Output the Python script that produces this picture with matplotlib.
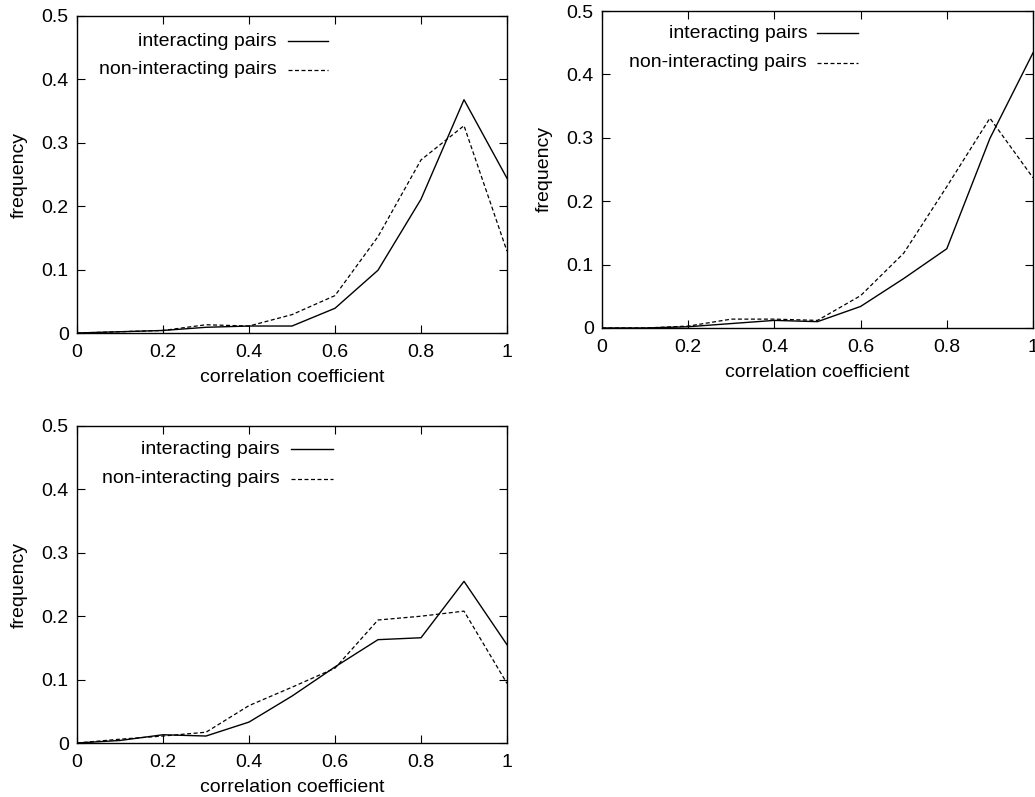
import numpy as np
import matplotlib.pyplot as plt
from matplotlib.lines import Line2D

plt.rcParams['font.family'] = ['Liberation Sans', 'DejaVu Sans']

# Data
corr = [0.0, 0.1, 0.2, 0.3, 0.4, 0.5, 0.6, 0.7, 0.8, 0.9, 1.0]

inter_a = [0.0, 0.002, 0.004, 0.009, 0.011, 0.011, 0.039, 0.099, 0.211, 0.368, 0.244]
non_a = [0.0, 0.002, 0.004, 0.013, 0.011, 0.029, 0.059, 0.152, 0.273, 0.327, 0.129]

inter_b = [0.0, 0.0, 0.002, 0.007, 0.012, 0.010, 0.034, 0.078, 0.125, 0.299, 0.434]
non_b = [0.0, 0.0, 0.003, 0.014, 0.014, 0.012, 0.051, 0.118, 0.223, 0.331, 0.237]

inter_c = [0.0, 0.004, 0.013, 0.011, 0.033, 0.074, 0.120, 0.163, 0.166, 0.255, 0.155]
non_c = [0.0, 0.006, 0.011, 0.017, 0.059, 0.088, 0.118, 0.194, 0.200, 0.208, 0.094]

xticks = [0, 0.2, 0.4, 0.6, 0.8, 1]
yticks = [0, 0.1, 0.2, 0.3, 0.4, 0.5]
labels = ['interacting pairs', 'non-interacting pairs']

W, H = 1035, 797
fig = plt.figure(figsize=(W / 100, H / 100), dpi=100)

# axes boxes in pixels: left, top, width, height
boxes = [(77, 16, 430, 317), (602, 11, 431, 317), (77, 426, 430, 317)]
series = [(inter_a, non_a), (inter_b, non_b), (inter_c, non_c)]
legend_pos = [(0.465, 0.491, 0.584, 0.921, 0.830),
              (0.476, 0.499, 0.594, 0.930, 0.836),
              (0.472, 0.498, 0.595, 0.927, 0.833)]

fs = 14
dash = (0, (3.2, 2.0))

for (l, t, w, h), (yi, yn), lp in zip(boxes, series, legend_pos):
    ax = fig.add_axes([l / W, 1 - (t + h) / H, w / W, h / H])
    ax.plot(corr, yi, color='black', lw=1.0)
    ax.plot(corr, yn, color='black', lw=0.9, linestyle=dash)
    ax.set_xlim(0, 1)
    ax.set_ylim(0, 0.5)
    ax.set_xticks(xticks)
    ax.set_xticklabels(['%g' % v for v in xticks])
    ax.set_yticks(yticks)
    ax.set_yticklabels(['%g' % v for v in yticks])
    ax.tick_params(direction='in', top=True, right=True, length=6, width=0.8,
                   labelsize=fs, colors='black')
    ax.tick_params(axis='y', pad=6)
    ax.tick_params(axis='x', pad=8)
    for s in ax.spines.values():
        s.set_linewidth(1.0)
    ax.set_xlabel('correlation coefficient', fontsize=fs, labelpad=6)
    ax.set_ylabel('frequency', fontsize=fs, labelpad=10)

    # gnuplot-style key: right-aligned text, sample to the right
    tx, x0, x1, y1, y2 = lp
    ax.text(tx, y1, labels[0], transform=ax.transAxes, ha='right', va='center', fontsize=fs)
    ax.text(tx, y2, labels[1], transform=ax.transAxes, ha='right', va='center', fontsize=fs)
    ax.add_line(Line2D([x0, x1], [y1, y1], transform=ax.transAxes, color='black', lw=1.0))
    ax.add_line(Line2D([x0, x1], [y2, y2], transform=ax.transAxes, color='black', lw=0.9,
                       linestyle=dash))

fig.savefig('out.png', dpi=100)
